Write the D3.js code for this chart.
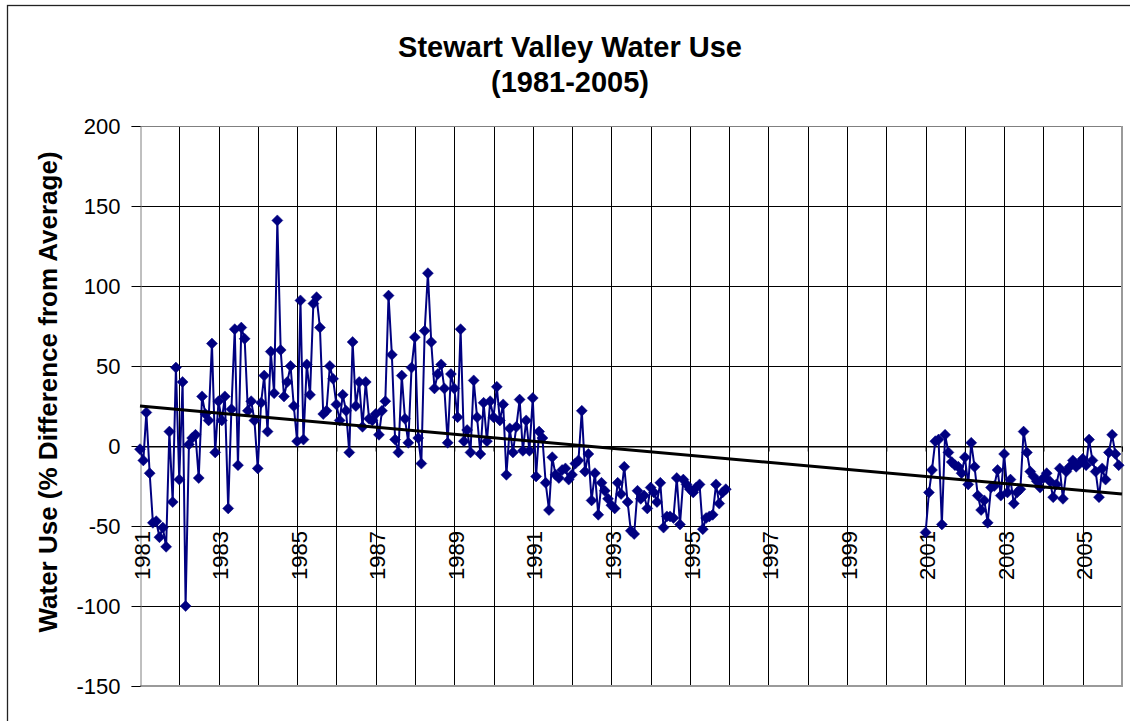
<!DOCTYPE html>
<html>
<head>
<meta charset="utf-8">
<script src="https://cdn.jsdelivr.net/npm/d3@7"></script>
<style>
  body { margin: 0; background: #fff; }
  svg { display: block; font-family: "Liberation Sans", Arial, sans-serif; }
</style>
</head>
<body>
<svg id="chart" width="1130" height="721"></svg>
<script>
// ---------------- DATA ----------------
const titleLines = ["Stewart Valley Water Use", "(1981-2005)"];
const yAxisTitle = "Water Use (% Difference from Average)";
const yTickValues = [200, 150, 100, 50, 0, -50, -100, -150];
const xLabelYears = [1981, 1983, 1985, 1987, 1989, 1991, 1993, 1995, 1997, 1999, 2001, 2003, 2005];
const gridYears = [1981, 1982, 1983, 1984, 1985, 1986, 1987, 1988, 1989, 1990, 1991, 1992, 1993,
                   1994, 1995, 1996, 1997, 1998, 1999, 2000, 2001, 2002, 2003, 2004, 2005, 2006];

// Monthly values, first segment starts Jan 1981
const segment1Start = 1981;
const use1981to1995 = [
  -2, -9, 21, -17, -48, -47, -57, -51, -63, 9, -35, 49,        // 1981
  -21, 40, -100, 1, 5, 7, -20, 31, 20, 16, 64, -4,             // 1982
  28, 16, 31, -39, 23, 73, -12, 74, 67, 22, 28, 16,            // 1983
  -14, 27, 44, 9, 59, 33, 141, 60, 31, 40, 50, 25,             // 1984
  3, 91, 4, 51, 32, 89, 93, 74, 20, 22, 50, 42,                // 1985
  26, 16, 32, 22, -4, 65, 25, 40, 12, 40, 17, 16,              // 1986
  20, 7, 22, 28, 94, 57, 4, -4, 44, 17, 2, 49,                 // 1987
  68, 5, -11, 72, 108, 65, 36, 45, 51, 36, 2, 45,              // 1988
  36, 18, 73, 3, 10, -4, 41, 18, -5, 27, 3, 28,                // 1989
  18, 37, 16, 26, -18, 11, -4, 12, 29, -3, 16, -3,             // 1990
  30, -19, 9, 5, -23, -40, -7, -18, -20, -15, -14, -21,        // 1991
  -18, -11, -9, 22, -16, -5, -34, -17, -43, -23, -28, -33,     // 1992
  -37, -39, -23, -30, -13, -35, -53, -55, -28, -33, -31, -39,  // 1993
  -26, -29, -35, -23, -51, -44, -44, -45, -20, -49, -21, -24,  // 1994
  -27, -29, -26, -24, -52, -45, -44, -43, -24, -36, -29, -27   // 1995
];

// Monthly values, second segment starts Jan 2001
const segment2Start = 2001;
const use2001to2005 = [
  -54, -29, -15, 3, 4, -49, 7, -4, -10, -12, -13, -17,         // 2001
  -7, -24, 2, -13, -31, -40, -34, -48, -26, -25, -15, -31,     // 2002
  -5, -29, -21, -36, -29, -27, 9, -4, -16, -19, -22, -26,      // 2003
  -20, -17, -22, -32, -24, -14, -33, -16, -13, -9, -13, -11,   // 2004
  -8, -12, 4, -9, -16, -32, -14, -21, -4, 7, -5, -12           // 2005
];

// Linear trend line end points
const trendYears = [1981, 2006];
const trendValues = [25, -30];

// ---------------- CHART ----------------
const svg = d3.select("#chart");
const plot = { left: 140, right: 1122, top: 126, bottom: 686 };

const x = d3.scaleTime()
  .domain([new Date(1981, 0, 1), new Date(2006, 0, 1)])
  .range([plot.left, plot.right]);
const y = d3.scaleLinear()
  .domain([-150, 200])
  .range([plot.bottom, plot.top]);

const seg1 = use1981to1995.map((v, i) => ({ date: new Date(segment1Start, i, 1), value: v }));
const seg2 = use2001to2005.map((v, i) => ({ date: new Date(segment2Start, i, 1), value: v }));

// outer chart border
svg.append("rect")
  .attr("x", 7.5).attr("y", 5.5)
  .attr("width", 1140).attr("height", 730)
  .attr("fill", "#fff").attr("stroke", "#222").attr("stroke-width", 1.3);

// horizontal gridlines
svg.append("g").selectAll("line")
  .data(yTickValues.filter(v => v !== 200 && v !== -150))
  .join("line")
  .attr("x1", plot.left).attr("x2", plot.right)
  .attr("y1", d => Math.round(y(d)) + 0.5).attr("y2", d => Math.round(y(d)) + 0.5)
  .attr("stroke", "#000").attr("stroke-width", 1);

// vertical gridlines
svg.append("g").selectAll("line")
  .data(gridYears.slice(1, -1))
  .join("line")
  .attr("x1", d => Math.round(x(new Date(d, 0, 1))) + 0.5)
  .attr("x2", d => Math.round(x(new Date(d, 0, 1))) + 0.5)
  .attr("y1", plot.top).attr("y2", plot.bottom)
  .attr("stroke", "#000").attr("stroke-width", 1);

// plot area border
svg.append("line").attr("x1", plot.left).attr("x2", plot.right)
  .attr("y1", plot.top + 0.5).attr("y2", plot.top + 0.5)
  .attr("stroke", "#808080").attr("stroke-width", 1);
svg.append("line").attr("x1", plot.right).attr("x2", plot.right)
  .attr("y1", plot.top).attr("y2", plot.bottom + 1)
  .attr("stroke", "#9a9a9a").attr("stroke-width", 2);
svg.append("line").attr("x1", plot.left).attr("x2", plot.right + 1)
  .attr("y1", plot.bottom).attr("y2", plot.bottom)
  .attr("stroke", "#9a9a9a").attr("stroke-width", 2);

// y axis
const yAxis = svg.append("g")
  .attr("transform", `translate(${plot.left + 0.5},0)`)
  .call(d3.axisLeft(y).tickValues(yTickValues).tickSize(9).tickPadding(11)
        .tickFormat(d => String(d)));
yAxis.select(".domain").attr("stroke", "#808080");
yAxis.selectAll(".tick line").attr("stroke", "#000");
yAxis.selectAll(".tick text")
  .attr("font-size", 22).attr("fill", "#000")
  .attr("font-family", "'Liberation Sans', Arial, sans-serif");

// x axis at zero (tick marks only)
const xAxis = svg.append("g")
  .attr("transform", `translate(0,${Math.round(y(0)) + 0.5})`)
  .call(d3.axisBottom(x).tickValues(gridYears.map(d => new Date(d, 0, 1)))
        .tickSize(5).tickFormat(""));
xAxis.select(".domain").attr("stroke", "#000");
xAxis.selectAll(".tick line").attr("stroke", "#000");

// x labels (rotated)
svg.append("g").selectAll("text")
  .data(xLabelYears)
  .join("text")
  .attr("transform", d => `translate(${x(new Date(d, 0, 1)) + 2},531) rotate(-90)`)
  .attr("text-anchor", "end")
  .attr("dy", "0.35em")
  .attr("font-size", 22)
  .attr("fill", "#000")
  .text(d => d);

// data series
const line = d3.line().x(d => x(d.date)).y(d => y(d.value));
const navy = "#000080";
[seg1, seg2].forEach(seg => {
  svg.append("path").datum(seg)
    .attr("d", line)
    .attr("fill", "none")
    .attr("stroke", navy)
    .attr("stroke-width", 2)
    .attr("stroke-linejoin", "round");
});
const diamond = "M0,-5.5L5.5,0L0,5.5L-5.5,0Z";
svg.append("g").selectAll("path")
  .data(seg1.concat(seg2))
  .join("path")
  .attr("d", diamond)
  .attr("transform", d => `translate(${x(d.date)},${y(d.value)})`)
  .attr("fill", navy)
  .attr("stroke", navy)
  .attr("stroke-width", 0.5);

// trend line (drawn on top of the series)
svg.append("line")
  .attr("x1", x(new Date(trendYears[0], 0, 1))).attr("y1", y(trendValues[0]))
  .attr("x2", x(new Date(trendYears[1], 0, 1))).attr("y2", y(trendValues[1]))
  .attr("stroke", "#000").attr("stroke-width", 3);

// titles
svg.append("text")
  .attr("x", 570).attr("y", 57)
  .attr("text-anchor", "middle")
  .attr("font-size", 29).attr("font-weight", "bold")
  .text(titleLines[0]);
svg.append("text")
  .attr("x", 570).attr("y", 92)
  .attr("text-anchor", "middle")
  .attr("font-size", 29).attr("font-weight", "bold")
  .text(titleLines[1]);

// y axis title
svg.append("text")
  .attr("transform", `translate(57,392) rotate(-90)`)
  .attr("text-anchor", "middle")
  .attr("font-size", 26).attr("font-weight", "bold")
  .text(yAxisTitle);
</script>
</body>
</html>
